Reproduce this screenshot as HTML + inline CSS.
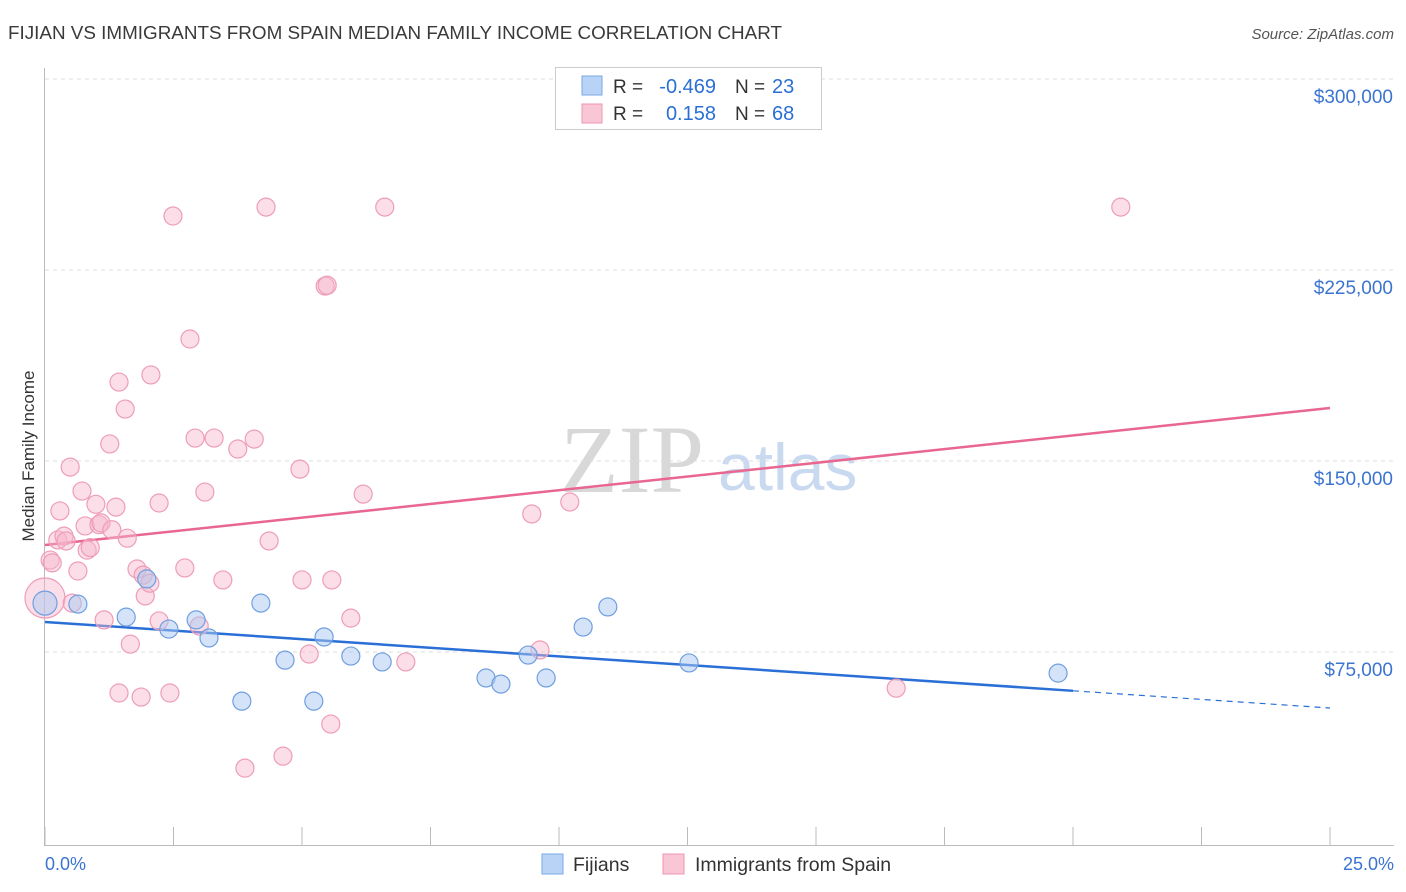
<!DOCTYPE html>
<html><head><meta charset="utf-8"><style>
body{margin:0;background:#fff;font-family:"Liberation Sans",sans-serif;}
svg{display:block}
</style></head><body>
<svg id="chart" width="1406" height="892">
<text x="8" y="39" font-size="18" fill="#3a3a3a" textLength="774" lengthAdjust="spacingAndGlyphs">FIJIAN VS IMMIGRANTS FROM SPAIN MEDIAN FAMILY INCOME CORRELATION CHART</text>
<text x="1394" y="39" font-size="15" fill="#555" font-style="italic" text-anchor="end">Source: ZipAtlas.com</text>
<text x="34" y="456" font-size="17" fill="#333" text-anchor="middle" transform="rotate(-90 34 456)">Median Family Income</text>
<text x="560" y="492" font-size="96" fill="#d8d8d8" font-family="Liberation Serif,serif">ZIP</text>
<text x="718" y="490" font-size="66" fill="#c9daf0">atlas</text>
<g id="grid"></g><g id="axes"></g><g id="trends"></g><g id="pts"></g>
<g>
<rect x="555.5" y="67.5" width="266" height="62" fill="#fff" stroke="#ccc"/>
<rect x="582" y="76" width="20" height="19" fill="#b8d3f5" stroke="#7aa9e8"/>
<rect x="582" y="104" width="20" height="19" fill="#f9c6d6" stroke="#ef95b2"/>
<text x="613" y="93" font-size="19" fill="#333">R =</text>
<text x="716" y="93" font-size="20" fill="#2a6fd6" text-anchor="end">-0.469</text>
<text x="735" y="93" font-size="19" fill="#333">N =</text>
<text x="772" y="93" font-size="20" fill="#2a6fd6">23</text>
<text x="613" y="120" font-size="19" fill="#333">R =</text>
<text x="716" y="120" font-size="20" fill="#2a6fd6" text-anchor="end">0.158</text>
<text x="735" y="120" font-size="19" fill="#333">N =</text>
<text x="772" y="120" font-size="20" fill="#2a6fd6">68</text>
</g>
<g>
<rect x="542" y="854" width="21" height="20" fill="#b8d3f5" stroke="#7aa9e8"/>
<text x="573" y="871" font-size="19.5" fill="#333">Fijians</text>
<rect x="663" y="854" width="21" height="20" fill="#f9c6d6" stroke="#ef95b2"/>
<text x="695" y="871" font-size="19.5" fill="#333">Immigrants from Spain</text>
</g>
<text x="45" y="870" font-size="18" fill="#3b74d0">0.0%</text>
<text x="1394" y="870" font-size="18" fill="#3b74d0" text-anchor="end">25.0%</text>
</svg>
<script>
const blueX=[0,0.64,1.58,1.98,2.41,2.94,3.19,3.83,4.20,4.67,5.23,5.43,5.95,6.56,8.58,8.87,9.40,9.75,10.47,10.95,12.53,19.71];
const blueY=[94.2,93.8,88.7,103.7,84.0,87.6,80.5,55.7,94.2,71.8,55.7,80.9,73.4,71.1,64.8,62.4,73.8,64.8,84.8,92.7,70.7,66.7];
const pinkX=[0,0.1,0.14,0.25,0.29,0.49,0.37,0.41,0.64,0.53,0.72,0.78,0.82,0.88,0.99,1.05,1.09,1.15,1.26,1.3,1.38,1.44,1.44,1.56,1.60,1.66,1.79,1.87,1.91,1.95,2.06,2.04,2.22,2.22,2.43,2.49,2.72,2.82,2.92,3.00,3.11,3.29,3.46,3.75,3.89,4.07,4.30,4.36,4.63,4.96,5.0,5.14,5.45,5.49,5.56,5.58,5.95,6.19,6.61,7.02,9.47,9.63,10.21,16.56,20.93];
const pinkY=[96.2,111.1,110,119,130.4,147.6,120.5,118.6,106.8,94.2,138.2,124.5,115,116,133,125,125.7,87.6,156.7,123,131.9,181,58.9,170.4,119.7,78.1,107.6,57.3,105.2,97,183.8,102,133.5,87.2,58.9,246.2,108,197.9,159,85.2,137.8,159,103.3,154.7,29.4,158.6,249.7,118.6,34.1,146.8,103.3,74.2,218.7,219,46.7,103.3,88.3,137,249.7,71.1,129.2,75.8,133.9,60.8,249.7];
const yTicks=[300,225,150,75];
const yTickLabels=["$300,000","$225,000","$150,000","$75,000"];
const xTicks=[0,2.5,5,7.5,10,12.5,15,17.5,20,22.5,25];
const blueTrend=[86.8,53];
const pinkTrend=[117,170.8];
const blueSolidEnd=20;
const NS="http://www.w3.org/2000/svg";
const X=v=>45+v/25*1285, Y=v=>79+(300-v)/75*191;
function mk(p,t,a){const e=document.createElementNS(NS,t);for(const k in a)e.setAttribute(k,a[k]);document.getElementById(p).appendChild(e);return e;}
yTicks.forEach((t,i)=>{
 const g=mk('grid','line',{x1:45,x2:1394,y1:Y(t),y2:Y(t),stroke:'#ddd','stroke-dasharray':'4 4'});
 
 
 const l=mk('grid','text',{x:1393,y:Y(t)+24,'font-size':19,fill:'#3b74d0','text-anchor':'end'});
 l.textContent=yTickLabels[i];
 
 
});
const ax=mk('axes','line',{x1:44.5,x2:44.5,y1:68,y2:846,stroke:'#bbb'});


const bx=mk('axes','line',{x1:44,x2:1394,y1:845.5,y2:845.5,stroke:'#bbb'});


xTicks.forEach(t=>{const e=mk('axes','line',{x1:X(t),x2:X(t),y1:827,y2:846,stroke:'#bbb'});
 
 });
function lin(tr,x){return tr[0]+(tr[1]-tr[0])*x/25;}
const pt=mk('trends','line',{x1:X(0),y1:Y(pinkTrend[0]),x2:X(25),y2:Y(pinkTrend[1]),stroke:'#e8668f','stroke-width':2.5});


const bt=mk('trends','line',{x1:X(0),y1:Y(blueTrend[0]),x2:X(blueSolidEnd),y2:Y(lin(blueTrend,blueSolidEnd)),stroke:'#2a6fd6','stroke-width':2.5});


const bd=mk('trends','line',{x1:X(blueSolidEnd),y1:Y(lin(blueTrend,blueSolidEnd)),x2:X(25),y2:Y(blueTrend[1]),stroke:'#2a6fd6','stroke-width':1.2,'stroke-dasharray':'6 5'});


pinkX.forEach((x,i)=>{const c=mk('pts','circle',{cx:X(x),cy:Y(pinkY[i]),r:i==0?20:9,fill:'rgba(247,182,204,0.45)',stroke:'#ee9db7','stroke-width':1.2});
 
 });
blueX.forEach((x,i)=>{const c=mk('pts','circle',{cx:X(x),cy:Y(blueY[i]),r:i==0?12:9,fill:'rgba(170,200,240,0.5)',stroke:'#6f9fe0','stroke-width':1.2});
 
 });
</script>
</body></html>
